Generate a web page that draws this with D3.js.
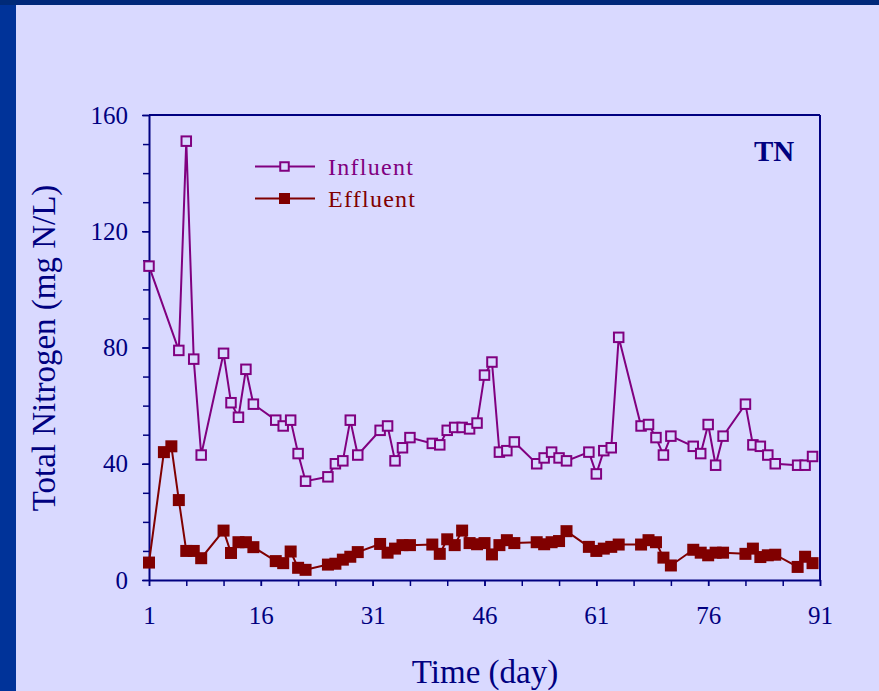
<!DOCTYPE html>
<html>
<head>
<meta charset="utf-8">
<script src="https://cdn.jsdelivr.net/npm/d3@7"></script>
<style>
  html, body { margin: 0; padding: 0; background: #d9d9ff; }
  svg { display: block; }
  text { font-family: "Liberation Serif", "Times New Roman", serif; }
</style>
</head>
<body>
<svg id="chart" width="879" height="691"></svg>
<script>
// Total nitrogen over the 90-day run (mg N/L)
const influentDays = [1,5,6,7,8,11,12,13,14,15,18,19,20,21,22,25,26,27,28,29,32,33,34,35,36,
  39,40,41,42,43,44,45,46,47,48,49,50,53,54,55,56,57,60,61,62,63,64,67,68,69,70,71,
  74,75,76,77,78,81,82,83,84,85,88,89,90];
const influentValues = [108,79,151,76,43,78,61,56,72.5,60.5,55,53,55,43.5,34,35.5,40,41,55,43,
  51.5,53,41,45.5,49,47,46.5,51.5,52.5,52.5,52,54,70.5,75,44,44.5,47.5,40,42,44,42,41,
  44,36.5,44.5,45.5,83.5,53,53.5,49,43,49.5,46,43.5,53.5,39.5,49.5,60.5,46.5,46,43,40,
  39.5,39.5,42.5];
const effluentDays = [1,3,4,5,6,7,8,11,12,13,14,15,18,19,20,21,22,25,26,27,28,29,32,33,34,35,36,
  39,40,41,42,43,44,45,46,47,48,49,50,53,54,55,56,57,60,61,62,63,64,67,68,69,70,71,
  74,75,76,77,78,81,82,83,84,85,88,89,90];
const effluentValues = [6,44,46,27.5,10,10,7.5,17,9.3,13,13,11.3,6.5,5.8,9.8,4.2,3.5,5.3,5.6,7,8,9.6,
  12.4,9.4,10.8,12,12,12.2,9,14,12,17,12.7,12.3,12.7,8.8,12,13.7,12.7,13,12.3,13,13.4,16.8,
  11.4,10,10.8,11.4,12.2,12.2,13.7,13,7.7,5,10.4,9.4,8.5,9.4,9.4,9,10.8,7.9,8.5,8.7,4.5,8,5.8];

const xTicks = [1,16,31,46,61,76,91];
const xMinorTicks = d3.range(1, 92, 5);
const yTicks = [0,40,80,120,160];
const yMinorTicks = d3.range(0, 161, 10);

const seriesNames = ["Influent", "Effluent"];
const chartTag = "TN";
const xTitle = "Time (day)";
const yTitle = "Total Nitrogen (mg N/L)";

const navy = "#000080";
const purple = "#800080";
const maroon = "#800000";
const bg = "#d9d9ff";

const svg = d3.select("#chart");
const W = 879, H = 691;

// slide background with dark bands along top and left
svg.append("rect").attr("width", W).attr("height", H).attr("fill", bg);
svg.append("rect").attr("x", 0).attr("y", 0).attr("width", 16).attr("height", H).attr("fill", "#003399");
svg.append("rect").attr("x", 0).attr("y", 0).attr("width", W).attr("height", 5).attr("fill", "#00287a");
svg.append("rect").attr("x", 0).attr("y", 0).attr("width", 16).attr("height", 5).attr("fill", "#002a78");

const plot = { left: 149, right: 820, top: 115, bottom: 580 };
const x = d3.scaleLinear().domain([1, 91]).range([plot.left, plot.right]);
const y = d3.scaleLinear().domain([0, 160]).range([plot.bottom, plot.top]);

// minor ticks (no labels)
svg.append("g").attr("transform", `translate(0,${plot.bottom})`)
  .call(d3.axisBottom(x).tickValues(xMinorTicks).tickSize(6).tickFormat(""))
  .call(g => g.select(".domain").remove())
  .call(g => g.selectAll("line").attr("stroke", navy).attr("stroke-width", 1.5));
svg.append("g").attr("transform", `translate(${plot.left},0)`)
  .call(d3.axisLeft(y).tickValues(yMinorTicks).tickSize(6).tickFormat(""))
  .call(g => g.select(".domain").remove())
  .call(g => g.selectAll("line").attr("stroke", navy).attr("stroke-width", 1.5));

// labelled axes
const xAxis = svg.append("g").attr("transform", `translate(0,${plot.bottom})`)
  .call(d3.axisBottom(x).tickValues(xTicks).tickSize(6).tickSizeOuter(0).tickPadding(20).tickFormat(d3.format("d")));
const yAxis = svg.append("g").attr("transform", `translate(${plot.left},0)`)
  .call(d3.axisLeft(y).tickValues(yTicks).tickSize(7).tickSizeOuter(0).tickPadding(14).tickFormat(d3.format("d")));
[xAxis, yAxis].forEach(g => {
  g.select(".domain").attr("stroke", navy).attr("stroke-width", 2);
  g.selectAll("line").attr("stroke", navy).attr("stroke-width", 1.5);
  g.selectAll("text").attr("fill", navy).attr("font-size", 25)
    .attr("font-family", "'Liberation Serif', 'Times New Roman', serif");
});

// top and right frame
svg.append("line").attr("x1", plot.left).attr("x2", plot.right).attr("y1", plot.top).attr("y2", plot.top)
  .attr("stroke", navy).attr("stroke-width", 2);
svg.append("line").attr("x1", plot.right).attr("x2", plot.right).attr("y1", plot.top).attr("y2", plot.bottom)
  .attr("stroke", navy).attr("stroke-width", 2);

// series
const influent = influentDays.map((d, i) => ({ day: d, v: influentValues[i] }));
const effluent = effluentDays.map((d, i) => ({ day: d, v: effluentValues[i] }));
const line = d3.line().x(d => x(d.day)).y(d => y(d.v));

svg.append("path").datum(influent).attr("d", line).attr("fill", "none")
  .attr("stroke", purple).attr("stroke-width", 2);
svg.append("path").datum(effluent).attr("d", line).attr("fill", "none")
  .attr("stroke", maroon).attr("stroke-width", 2);

const sIn = 9.5, sEf = 12;
svg.append("g").selectAll("rect").data(influent).join("rect")
  .attr("x", d => x(d.day) - sIn / 2).attr("y", d => y(d.v) - sIn / 2)
  .attr("width", sIn).attr("height", sIn)
  .attr("fill", bg).attr("stroke", purple).attr("stroke-width", 2);
svg.append("g").selectAll("rect").data(effluent).join("rect")
  .attr("x", d => x(d.day) - sEf / 2).attr("y", d => y(d.v) - sEf / 2)
  .attr("width", sEf).attr("height", sEf)
  .attr("fill", maroon);

// legend
const legend = [
  { name: seriesNames[0], color: purple, filled: false, y: 166.5, len: 85 },
  { name: seriesNames[1], color: maroon, filled: true, y: 198.5, len: 87 }
];
legend.forEach(l => {
  svg.append("line").attr("x1", 255).attr("x2", 315).attr("y1", l.y).attr("y2", l.y)
    .attr("stroke", l.color).attr("stroke-width", 2);
  const s = l.filled ? 11 : 8.5;
  svg.append("rect").attr("x", 284.5 - s / 2).attr("y", l.y - s / 2).attr("width", s).attr("height", s)
    .attr("fill", l.filled ? l.color : bg).attr("stroke", l.filled ? "none" : l.color).attr("stroke-width", 2);
  svg.append("text").attr("x", 328).attr("y", l.y + 8).attr("font-size", 24)
    .attr("fill", l.color).attr("textLength", l.len).attr("lengthAdjust", "spacing").text(l.name);
});

// panel tag
svg.append("text").attr("x", 754).attr("y", 161).attr("font-size", 29).attr("font-weight", "bold")
  .attr("fill", navy).text(chartTag);

// axis titles
svg.append("text").attr("x", 485).attr("y", 683).attr("text-anchor", "middle")
  .attr("font-size", 33).attr("fill", navy).text(xTitle);
svg.append("text").attr("transform", "translate(55,348) rotate(-90)").attr("text-anchor", "middle")
  .attr("font-size", 33).attr("fill", navy).text(yTitle);
</script>
</body>
</html>
